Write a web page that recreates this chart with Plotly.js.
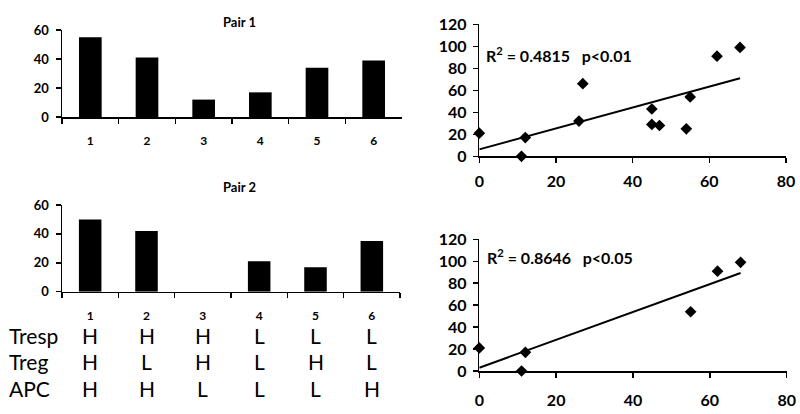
<!DOCTYPE html>
<html>
<head>
<meta charset="utf-8">
<script src="https://cdn.plot.ly/plotly-3.0.1.min.js"></script>
<style>html,body{margin:0;padding:0;background:#fff}#chart{width:800px;height:414px}</style>
</head>
<body>
<div id="chart"></div>
<script>
// ---- data ----
const categories = ['1', '2', '3', '4', '5', '6'];
const pair1Values = [55, 41, 12, 17, 34, 39];
const pair2Values = [50, 42, 0, 21, 17, 35];
const rowNames = ['Tresp', 'Treg', 'APC'];
const trespLevels = ['H', 'H', 'H', 'L', 'L', 'L'];
const tregLevels = ['H', 'L', 'H', 'L', 'H', 'L'];
const apcLevels = ['H', 'H', 'L', 'L', 'L', 'H'];
const scatter1X = [0, 11, 12, 26, 27, 45, 45, 47, 54, 55, 62, 68];
const scatter1Y = [21, 0, 17, 32, 66, 43, 29, 28, 25, 54, 91, 99];
const scatter2X = [0, 11, 12, 55, 62, 68];
const scatter2Y = [21, 0, 17, 54, 91, 99];
const pValue1 = 'p&lt;0.01';
const pValue2 = 'p&lt;0.05';

// least-squares fit of a series
function fit(xs, ys) {
  const n = xs.length;
  const mx = xs.reduce((a, b) => a + b, 0) / n;
  const my = ys.reduce((a, b) => a + b, 0) / n;
  let sxy = 0, sxx = 0, syy = 0;
  for (let i = 0; i < n; i++) {
    sxy += (xs[i] - mx) * (ys[i] - my);
    sxx += (xs[i] - mx) ** 2;
    syy += (ys[i] - my) ** 2;
  }
  const slope = sxy / sxx;
  const intercept = my - slope * mx;
  const xmin = Math.min(...xs), xmax = Math.max(...xs);
  return {
    x: [xmin, xmax],
    y: [intercept + slope * xmin, intercept + slope * xmax],
    r2: (sxy * sxy) / (sxx * syy)
  };
}
const fit1 = fit(scatter1X, scatter1Y);
const fit2 = fit(scatter2X, scatter2Y);

const FONT = 'Lato, "Open Sans", sans-serif';
const black = '#000';

const traces = [
  { type: 'bar', x: categories, y: pair1Values, xaxis: 'x', yaxis: 'y',
    marker: { color: black }, width: 0.4, hoverinfo: 'skip' },
  { type: 'bar', x: categories, y: pair2Values, xaxis: 'x2', yaxis: 'y2',
    marker: { color: black }, width: 0.4, hoverinfo: 'skip' },
  { type: 'scatter', mode: 'markers', x: scatter1X, y: scatter1Y, xaxis: 'x3', yaxis: 'y3',
    marker: { symbol: 'diamond', size: 9, color: black }, cliponaxis: false },
  { type: 'scatter', mode: 'lines', x: fit1.x, y: fit1.y, xaxis: 'x3', yaxis: 'y3',
    line: { color: black, width: 2 }, cliponaxis: false },
  { type: 'scatter', mode: 'markers', x: scatter2X, y: scatter2Y, xaxis: 'x4', yaxis: 'y4',
    marker: { symbol: 'diamond', size: 9, color: black }, cliponaxis: false },
  { type: 'scatter', mode: 'lines', x: fit2.x, y: fit2.y, xaxis: 'x4', yaxis: 'y4',
    line: { color: black, width: 2 }, cliponaxis: false }
];

const barX = (domain, anchor) => ({
  domain, anchor, type: 'category', range: [-0.5, categories.length - 0.5], autorange: false,
  showline: true, linecolor: black, linewidth: 1.5,
  ticks: 'outside', tickson: 'boundaries', ticklen: 5, tickwidth: 1.5, tickcolor: black,
  showgrid: false, zeroline: false, ticklabelstandoff: 12,
  tickfont: { family: FONT, size: 12, color: black, weight: 'bold' }, fixedrange: true
});
const barY = (domain, anchor) => ({
  domain, anchor, range: [0, 60], dtick: 20, showline: true, linecolor: black, linewidth: 1.5,
  ticks: 'outside', ticklen: 5, tickwidth: 1.5, tickcolor: black, showgrid: false, zeroline: false,
  ticklabelstandoff: 4,
  tickfont: { family: FONT, size: 13, color: black, weight: 'bold' }, fixedrange: true
});
const scX = (domain, anchor, standoff) => ({
  domain, anchor, range: [0, 80], dtick: 20, showline: true, linecolor: black, linewidth: 1.5,
  ticks: 'outside', ticklen: 5, tickwidth: 1.5, tickcolor: black, showgrid: false, zeroline: false,
  ticklabelstandoff: standoff,
  tickfont: { family: FONT, size: 16, color: black, weight: 'bold' }, fixedrange: true
});
const scY = (domain, anchor) => ({
  domain, anchor, range: [0, 120], dtick: 20, showline: true, linecolor: black, linewidth: 1.5,
  ticks: 'outside', ticklen: 5, tickwidth: 1.5, tickcolor: black, showgrid: false, zeroline: false,
  ticklabelstandoff: 3,
  tickfont: { family: FONT, size: 16, color: black, weight: 'bold' }, fixedrange: true
});

const annotations = [
  { text: 'Pair 1', xref: 'paper', yref: 'paper', x: 221 / 800, y: 1 - 12 / 414,
    showarrow: false, font: { family: FONT, size: 13, color: black, weight: 'bold' } },
  { text: 'Pair 2', xref: 'paper', yref: 'paper', x: 221 / 800, y: 1 - 187 / 414,
    showarrow: false, font: { family: FONT, size: 13, color: black, weight: 'bold' } },
  { text: 'R<sup>2</sup> = ' + fit1.r2.toFixed(4) + '   ' + pValue1, xref: 'paper', yref: 'paper',
    x: 484 / 800, y: 1 - 42 / 414, xanchor: 'left', showarrow: false,
    font: { family: FONT, size: 16, color: black, weight: 'bold' } },
  { text: 'R<sup>2</sup> = ' + fit2.r2.toFixed(4) + '   ' + pValue2, xref: 'paper', yref: 'paper',
    x: 485 / 800, y: 1 - 256 / 414, xanchor: 'left', showarrow: false,
    font: { family: FONT, size: 16, color: black, weight: 'bold' } }
];

const rows = [trespLevels, tregLevels, apcLevels];
const rowY = [335, 361, 388];
rows.forEach((levels, r) => {
  annotations.push({ text: rowNames[r], xref: 'paper', yref: 'paper', x: 7 / 800,
    y: 1 - rowY[r] / 414, xanchor: 'left', yanchor: 'middle', showarrow: false,
    font: { family: FONT, size: 21, color: black } });
  levels.forEach((lv, i) => {
    annotations.push({ text: lv, xref: 'x2', yref: 'paper', x: i,
      y: 1 - rowY[r] / 414, yanchor: 'middle', showarrow: false,
      font: { family: FONT, size: 21, color: black } });
  });
});

const layout = {
  width: 800, height: 414,
  margin: { l: 0, r: 0, t: 0, b: 0 },
  paper_bgcolor: '#fff', plot_bgcolor: '#fff',
  showlegend: false,
  xaxis: barX([62 / 800, 402 / 800], 'y'),
  yaxis: barY([1 - 117 / 414, 1 - 30 / 414], 'x'),
  xaxis2: barX([62 / 800, 400 / 800], 'y2'),
  yaxis2: barY([1 - 291.7 / 414, 1 - 205 / 414], 'x2'),
  xaxis3: scX([479.3 / 800, 786 / 800], 'y3', 5),
  yaxis3: scY([1 - 156.3 / 414, 1 - 24.3 / 414], 'x3'),
  xaxis4: scX([479.3 / 800, 786.7 / 800], 'y4', 9),
  yaxis4: scY([1 - 371 / 414, 1 - 239.3 / 414], 'x4'),
  annotations
};

Plotly.newPlot('chart', traces, layout, { displayModeBar: false, staticPlot: true });
</script>
</body>
</html>
